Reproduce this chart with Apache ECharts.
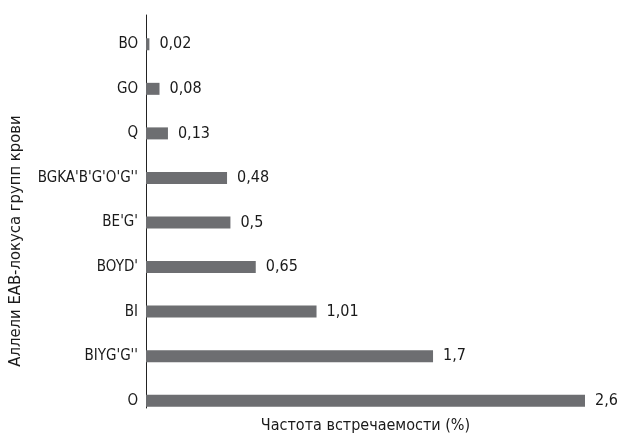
<!DOCTYPE html>
<html><head><meta charset="utf-8">
<script src="https://cdn.jsdelivr.net/npm/echarts@6/dist/echarts.min.js"></script>
<style>html,body{margin:0;padding:0;background:#fff}#c{width:619px;height:440px}</style>
</head><body><div id="c"></div>
<script>
const categories = ["O", "BIYG'G''", "BI", "BOYD'", "BE'G'", "BGKA'B'G'O'G''", "Q", "GO", "BO"];
const values = [2.6, 1.7, 1.01, 0.65, 0.5, 0.48, 0.13, 0.08, 0.02];
const xName = "Частота встречаемости (%)";
const yName = "Аллели EAB-локуса групп крови";
const FONT = "'Liberation Sans Narrow', 'DejaVu Sans Condensed', 'Roboto Condensed', sans-serif";
const chart = echarts.init(document.getElementById('c'));
chart.setOption({
  animation: false,
  grid: [
    {left: 146, right: 34, top: 22, bottom: 17, containLabel: false},
    {left: 146, right: 34, top: 15, bottom: 32, containLabel: false}
  ],
  xAxis: [{
    type: 'value', min: 0, max: 2.6, gridIndex: 0,
    axisLine: {show: false}, axisTick: {show: false}, axisLabel: {show: false}, splitLine: {show: false},
    name: xName, nameLocation: 'middle', nameGap: -5,
    nameTextStyle: {fontFamily: FONT, fontSize: 16, color: '#1a1a1a'}
  }, {
    type: 'value', gridIndex: 1, show: false
  }],
  yAxis: [{
    type: 'category', data: categories, gridIndex: 0,
    axisLine: {show: false},
    axisTick: {show: false},
    axisLabel: {fontFamily: FONT, fontSize: 15, color: '#1a1a1a', margin: 8}
  }, {
    type: 'category', data: categories, gridIndex: 1,
    axisLine: {show: true, lineStyle: {color: '#222', width: 1}},
    axisTick: {show: false}, axisLabel: {show: false}
  }],
  graphic: [{
    type: 'text', x: 16, y: 241, rotation: Math.PI / 2,
    style: {text: yName, fontFamily: FONT, fontSize: 16.5, fill: '#1a1a1a', align: 'center', verticalAlign: 'middle'}
  }],
  series: [{
    type: 'bar', data: values, barWidth: 12, xAxisIndex: 0, yAxisIndex: 0,
    itemStyle: {color: '#6d6e71'},
    label: {
      show: true, position: 'right', distance: 10,
      fontFamily: FONT, fontSize: 16, color: '#1a1a1a',
      formatter: p => String(p.value).replace('.', ',')
    }
  }]
});
</script></body></html>
